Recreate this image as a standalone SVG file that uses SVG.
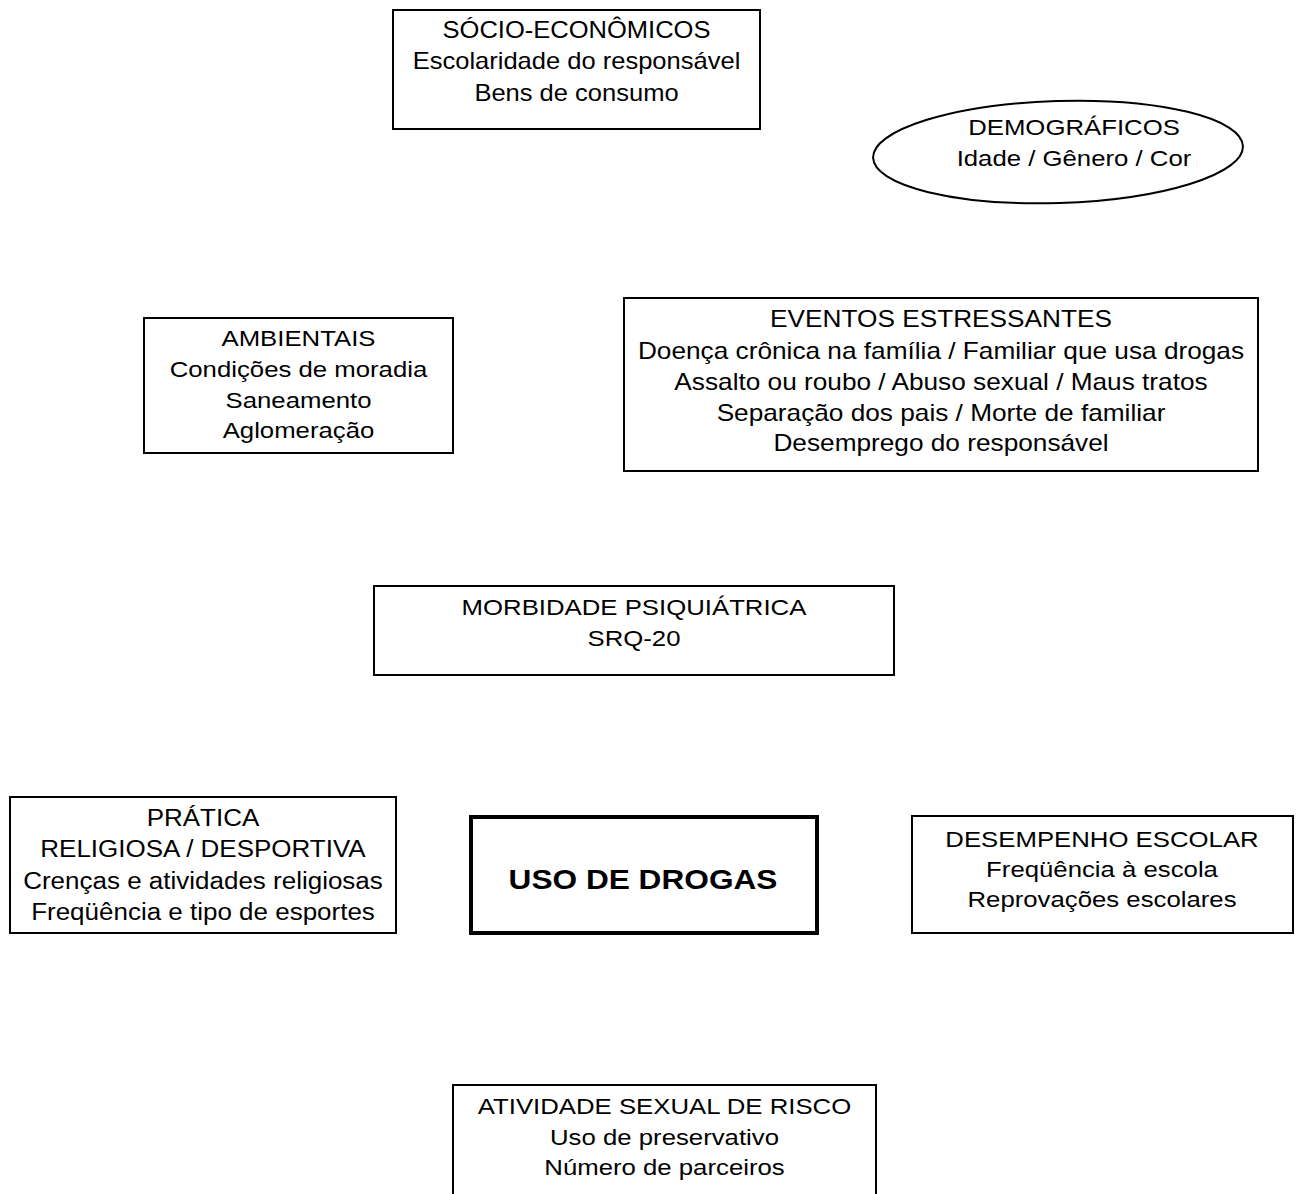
<svg xmlns="http://www.w3.org/2000/svg" width="1299" height="1194" viewBox="0 0 1299 1194">
<style>
.box{fill:#fff;stroke:#000;stroke-width:2}
.thick{fill:#fff;stroke:#000;stroke-width:4}
text{font-family:"Liberation Sans",Arial,sans-serif;font-size:23px;fill:#000;text-anchor:middle}
.b{font-weight:bold;font-size:28px}
</style>
<rect width="1299" height="1194" fill="#fff"/>
<g id="connectors"></g>
<g id="socio">
<rect class="box" x="393" y="10" width="367" height="119"/>
<g transform="translate(576.5,0) scale(1.11,1)">
<text x="0" y="38">SÓCIO-ECONÔMICOS</text>
<text x="0" y="69.5">Escolaridade do responsável</text>
<text x="0" y="101">Bens de consumo</text>
</g>
</g>
<g id="demograficos">
<ellipse class="box" cx="1058" cy="152" rx="185" ry="51" transform="rotate(-1.8 1058 152)"/>
<g transform="translate(1074,0) scale(1.12,1)">
<text x="0" y="135">DEMOGRÁFICOS</text>
<text x="0" y="166">Idade / Gênero / Cor</text>
</g>
</g>
<g id="ambientais">
<rect class="box" x="144" y="318" width="309" height="135"/>
<g transform="translate(298.5,0) scale(1.12,1)">
<text x="0" y="346">AMBIENTAIS</text>
<text x="0" y="377">Condições de moradia</text>
<text x="0" y="408">Saneamento</text>
<text x="0" y="438">Aglomeração</text>
</g>
</g>
<g id="eventos">
<rect class="box" x="624" y="298" width="634" height="173"/>
<g transform="translate(941,0) scale(1.14,1)">
<text x="0" y="327">EVENTOS ESTRESSANTES</text>
<text x="0" y="359">Doença crônica na família / Familiar que usa drogas</text>
<text x="0" y="390">Assalto ou roubo / Abuso sexual / Maus tratos</text>
<text x="0" y="421">Separação dos pais / Morte de familiar</text>
<text x="0" y="451">Desemprego do responsável</text>
</g>
</g>
<g id="morbidade">
<rect class="box" x="374" y="586" width="520" height="89"/>
<g transform="translate(634,0) scale(1.12,1)">
<text x="0" y="615">MORBIDADE PSIQUIÁTRICA</text>
<text x="0" y="646">SRQ-20</text>
</g>
</g>
<g id="pratica">
<rect class="box" x="10" y="797" width="386" height="136"/>
<g transform="translate(203,0) scale(1.13,1)">
<text x="0" y="826">PRÁTICA</text>
<text x="0" y="857">RELIGIOSA / DESPORTIVA</text>
<text x="0" y="889">Crenças e atividades religiosas</text>
<text x="0" y="920">Freqüência e tipo de esportes</text>
</g>
</g>
<g id="uso">
<rect class="thick" x="471" y="817" width="346" height="116"/>
<g transform="translate(643,0) scale(1.13,1)">
<text class="b" x="0" y="889">USO DE DROGAS</text>
</g>
</g>
<g id="desempenho">
<rect class="box" x="912" y="816" width="381" height="117"/>
<g transform="translate(1102,0) scale(1.12,1)">
<text x="0" y="847">DESEMPENHO ESCOLAR</text>
<text x="0" y="877">Freqüência à escola</text>
<text x="0" y="907">Reprovações escolares</text>
</g>
</g>
<g id="atividade">
<rect class="box" x="453" y="1085" width="423" height="120"/>
<g transform="translate(664.5,0) scale(1.12,1)">
<text x="0" y="1114">ATIVIDADE SEXUAL DE RISCO</text>
<text x="0" y="1145">Uso de preservativo</text>
<text x="0" y="1175">Número de parceiros</text>
</g>
</g>
</svg>
